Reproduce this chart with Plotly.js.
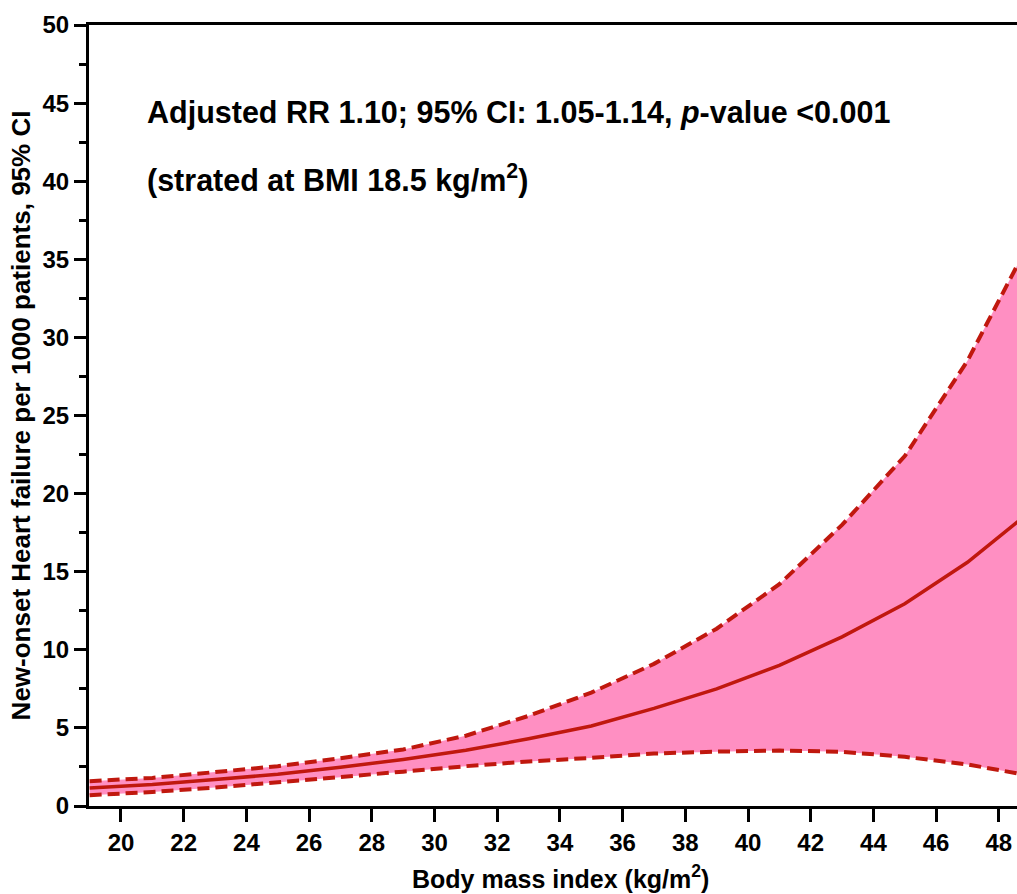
<!DOCTYPE html>
<html>
<head>
<meta charset="utf-8">
<script src="https://cdn.plot.ly/plotly-3.0.1.min.js"></script>
<style>html,body{margin:0;padding:0;background:#fff;}#chart{width:1017px;height:894px;}</style>
</head>
<body>
<div id="chart"></div>
<script>
// BMI (kg/m2)
const bmi = [19, 21, 23, 25, 27, 29, 31, 33, 35, 37, 39, 41, 43, 45, 47, 49];
// New-onset heart failure per 1000 patients
const estimate = [1.16, 1.38, 1.69, 2.03, 2.48, 2.98, 3.57, 4.30, 5.12, 6.25, 7.50, 9.00, 10.83, 12.95, 15.60, 18.85];
const upperCI  = [1.59, 1.80, 2.17, 2.55, 3.06, 3.62, 4.50, 5.77, 7.26, 9.10, 11.35, 14.20, 18.00, 22.40, 28.50, 36.20];
const lowerCI  = [0.69, 0.90, 1.18, 1.50, 1.84, 2.20, 2.55, 2.85, 3.08, 3.36, 3.48, 3.55, 3.47, 3.15, 2.66, 1.94];
const xTicks = [20, 22, 24, 26, 28, 30, 32, 34, 36, 38, 40, 42, 44, 46, 48];
const yTicks = [0, 5, 10, 15, 20, 25, 30, 35, 40, 45, 50];

const red = '#C0180E';
const pink = '#FF8FC2';
const FONT = 'Liberation Sans, Arial, Helvetica, sans-serif';

const traces = [
  {x: bmi, y: lowerCI, mode: 'lines', line: {width: 0, color: pink}, showlegend: false, hoverinfo: 'skip'},
  {x: bmi, y: upperCI, mode: 'lines', fill: 'tonexty', fillcolor: pink, line: {width: 0, color: pink}, showlegend: false, hoverinfo: 'skip'},
  {x: bmi, y: lowerCI, mode: 'lines', line: {color: red, width: 4, dash: '12px,6px'}, showlegend: false},
  {x: bmi, y: upperCI, mode: 'lines', line: {color: red, width: 4, dash: '12px,6px'}, showlegend: false},
  {x: bmi, y: estimate, mode: 'lines', line: {color: red, width: 3.5}, showlegend: false}
];

const layout = {
  width: 1017, height: 894,
  margin: {l: 89, r: 0, t: 25, b: 87.5},
  paper_bgcolor: '#fff', plot_bgcolor: '#fff',
  font: {family: FONT, color: '#000', size: 24},
  showlegend: false,
  xaxis: {
    range: [18.98, 48.58],
    tickvals: xTicks, ticktext: xTicks.map(String),
    ticks: 'outside', ticklen: 13, tickwidth: 3, tickcolor: '#000',
    showline: true, linewidth: 3, linecolor: '#000', mirror: true,
    showgrid: false, zeroline: false,
    tickfont: {family: FONT, size: 24, color: '#000', weight: 'bold'}
  },
  yaxis: {
    range: [0, 50],
    tickvals: yTicks, ticktext: yTicks.map(String),
    ticks: 'outside', ticklen: 12, tickwidth: 3, tickcolor: '#000',
    minor: {dtick: 2.5, tick0: 0, ticks: 'outside', ticklen: 7, tickwidth: 3, tickcolor: '#000', showgrid: false},
    showline: true, linewidth: 3, linecolor: '#000', mirror: false,
    showgrid: false, zeroline: false,
    tickfont: {family: FONT, size: 24, color: '#000', weight: 'bold'},
    title: {text: '<b>New-onset Heart failure per 1000 patients, 95% CI</b>', font: {family: FONT, size: 26, color: '#000'}, standoff: 5}
  },
  annotations: [
    {x: 20.77, y: 44.37, xref: 'x', yref: 'y', xanchor: 'left', yanchor: 'middle', showarrow: false,
     text: '<b>Adjusted RR 1.10; 95% CI: 1.05-1.14, <i>p</i>-value &lt;0.001</b>', font: {family: FONT, size: 30.5, color: '#000'}},
    {x: 20.77, y: 40.2, xref: 'x', yref: 'y', xanchor: 'left', yanchor: 'middle', showarrow: false,
     text: '<b>(strated at BMI 18.5 kg/m<sup>2</sup>)</b>', font: {family: FONT, size: 30.5, color: '#000'}},
    {x: (560 - 89) / 928, y: -0.091, xref: 'paper', yref: 'paper', xanchor: 'center', yanchor: 'middle', showarrow: false,
     text: '<b>Body mass index (kg/m<sup>2</sup>)</b>', font: {family: FONT, size: 25, color: '#000'}}
  ]
};

Plotly.newPlot('chart', traces, layout, {displayModeBar: false, staticPlot: true});
</script>
</body>
</html>
